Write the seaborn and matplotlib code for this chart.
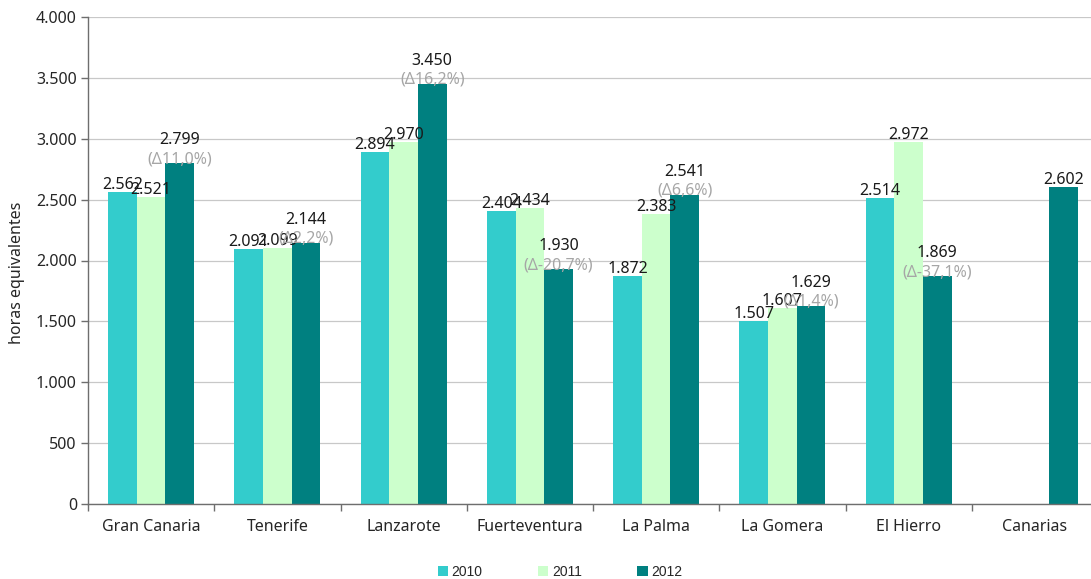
import matplotlib
matplotlib.use("Agg")
import matplotlib.pyplot as plt
import matplotlib.ticker as mticker
from matplotlib.patches import Patch
import seaborn as sns
import pandas as pd
import numpy as np

# datos (horas equivalentes por isla)
islas = ["Gran Canaria", "Tenerife", "Lanzarote", "Fuerteventura",
         "La Palma", "La Gomera", "El Hierro", "Canarias"]
anios = ["2010", "2011", "2012"]
h2010 = [2562, 2091, 2894, 2404, 1872, 1507, 2514, np.nan]
h2011 = [2521, 2099, 2970, 2434, 2383, 1607, 2972, np.nan]
h2012 = [2799, 2144, 3450, 1930, 2541, 1629, 1869, 2602]
delta = [11.0, 2.2, 16.2, -20.7, 6.6, 1.4, -37.1, None]  # % 2012 vs 2011
colores = ["#33CCCC", "#CCFFCC", "#008080"]

sns.set_style("white")
plt.rcParams["font.family"] = ["Noto Sans", "DejaVu Sans"]

df = pd.DataFrame({
    "isla": islas * 3,
    "anio": [a for a in anios for _ in islas],
    "horas": h2010 + h2011 + h2012,
})

fig = plt.figure(figsize=(10.91, 5.79), dpi=100)
ax = fig.add_axes([88 / 1091, 1 - 504 / 579, 1010 / 1091, 487 / 579])

sns.barplot(data=df, x="isla", y="horas", hue="anio", order=islas, hue_order=anios,
            palette=colores, width=0.68, gap=0, saturation=1, errorbar=None,
            legend=False, linewidth=0, edgecolor="none", ax=ax)

ax.set_ylim(0, 4000)
ax.set_xlim(-0.5, len(islas) - 0.5)
ax.yaxis.set_major_locator(mticker.MultipleLocator(500))
ax.yaxis.set_major_formatter(mticker.FuncFormatter(lambda v, p: f"{int(v):,}".replace(",", ".")))
ax.grid(axis="y", color="#c8c8c8", linewidth=0.9)
ax.set_axisbelow(True)
for s in ["top", "right"]:
    ax.spines[s].set_visible(False)
for s in ["left", "bottom"]:
    ax.spines[s].set_color("#6e6e6e")
    ax.spines[s].set_linewidth(1.0)

ax.tick_params(axis="y", length=5, width=1, color="#6e6e6e", labelsize=11.5, pad=3, left=True)
ax.tick_params(axis="x", which="major", length=0, labelsize=11.5, pad=11)
ax.set_xticks(np.arange(-0.5, len(islas)), minor=True)
ax.tick_params(axis="x", which="minor", length=5, width=1, color="#6e6e6e", bottom=True)
ax.set_xlabel("")
ax.set_ylabel("horas equivalentes", fontsize=11.5)
ax.yaxis.set_label_coords(-0.0624, 0.474)

# etiquetas de valores
to_pts = 72 / 100
for k, cont in enumerate(ax.containers):
    for bar in cont:
        h = bar.get_height()
        if np.isnan(h) or h == 0:
            continue
        xc = bar.get_x() + bar.get_width() / 2
        i = int(round(xc))
        txt = f"{int(h):,}".replace(",", ".")
        d = delta[i] if k == 2 else None
        if d is None:
            ax.annotate(txt, (xc, h), xytext=(0, 3 * to_pts), textcoords="offset points",
                        ha="center", va="baseline", fontsize=11.5, color="#1a1a1a")
        else:
            ax.annotate(txt, (xc, h), xytext=(0, 19 * to_pts), textcoords="offset points",
                        ha="center", va="baseline", fontsize=11.5, color="#1a1a1a")
            dtxt = "(Δ" + f"{d:.1f}".replace(".", ",") + "%)"
            ax.annotate(dtxt, (xc, h), xytext=(0, 0), textcoords="offset points",
                        ha="center", va="baseline", fontsize=11.5, color="#a6a6a6")

# leyenda
handles = [Patch(facecolor=c, edgecolor="none") for c in colores]
fig.legend(handles, anios, loc="center", bbox_to_anchor=(560 / 1091, 1 - 572 / 579),
           ncol=3, frameon=False, handlelength=0.75, handleheight=0.75, handletextpad=0.25,
           columnspacing=4.0, prop={"family": ["Liberation Sans Narrow", "Liberation Sans"], "size": 10})

fig.savefig("out.png", dpi=100)
